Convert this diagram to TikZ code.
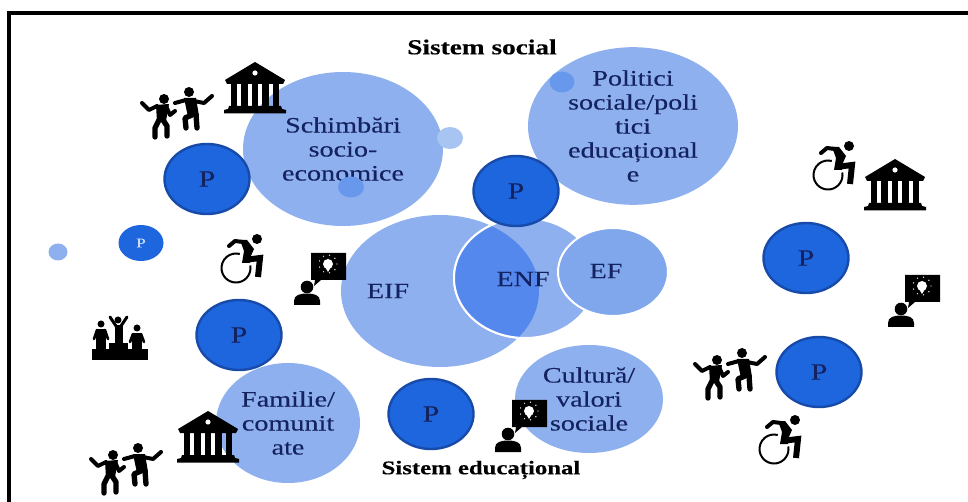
\documentclass[tikz,border=0pt]{standalone}
\usepackage{fontspec}
\setmainfont[FakeStretch=1.28,FakeBold=0.25]{Liberation Serif}
\usetikzlibrary{shapes.geometric}
\definecolor{bub}{RGB}{143,176,238}
\definecolor{bubb}{RGB}{128,166,236}
\definecolor{over}{RGB}{84,136,236}
\definecolor{pfill}{RGB}{30,102,222}
\definecolor{pedge}{RGB}{24,74,170}
\definecolor{ink}{RGB}{20,34,96}
\definecolor{dotm}{RGB}{104,152,236}
\definecolor{dotl}{RGB}{168,196,242}
\definecolor{pale}{RGB}{205,220,248}
\tikzset{
  x=0.75pt,y=-0.75pt,
  ell/.style 2 args={ellipse,inner sep=0pt,outer sep=0pt,minimum width=#1*0.75pt,minimum height=#2*0.75pt},
  bubble/.style={fill=bub,text=ink,align=center,font=\fontsize{16.5}{18}\selectfont},
  pnode/.style={ell={85}{70},fill=pfill,draw=pedge,line width=1.8pt,text=ink,font=\fontsize{17.5}{18}\selectfont},
  lab/.style={text=ink,font=\fontsize{16.5}{18}\selectfont,inner sep=0pt},
  title/.style={text=black,font=\fontsize{16}{18}\selectfont\bfseries,inner sep=0pt},
  stroke/.style={draw=black,line cap=round,line join=round},
  pics/bank/.style={code={
    \fill[black] (0,-26) -- (-30,-8) -- (-28,-4) -- (28,-4) -- (30,-8) -- cycle;
    \fill[white] (0,-15) circle[radius=2.6];
    \foreach \cx in {-21,-10.5,0,10.5,21}{\fill[black] (\cx-3.3,-5) rectangle (\cx+3.3,19);}
    \fill[black] (-26,18) -- (26,18) -- (27,21) -- (31,22) -- (31,25.5) -- (-31,25.5) -- (-31,22) -- (-27,21) -- cycle;
  }},
  pics/dancers/.style={code={
    \fill (-12,-14) circle[radius=5];
    \fill (-20,-8) -- (-7,-9) -- (-10,8) -- (-19,9) -- cycle;
    \draw[stroke,line width=3pt] (-34,-10) -- (-27,-3) -- (-19,-7);
    \draw[stroke,line width=3pt] (-10,-7) -- (-6,2) -- (-1,-2);
    \draw[stroke,line width=4pt] (-17,7) -- (-21,15) -- (-21,24);
    \draw[stroke,line width=4pt] (-13,7) -- (-9,13) -- (-9,23);
    \fill (13,-21) circle[radius=5];
    \fill (8,-15) -- (20,-15) -- (23,3) -- (12,4) -- cycle;
    \draw[stroke,line width=3pt] (-1,-10) -- (10,-13);
    \draw[stroke,line width=3pt] (18,-12) -- (28,-10) -- (36,-17);
    \draw[stroke,line width=4pt] (16,2) -- (9,5) -- (10,15);
    \draw[stroke,line width=4pt] (20,2) -- (21,15);
  }},
  pics/wheel/.style={code={
    \fill (15,-20) circle[radius=5];
    \draw[stroke,line width=3pt] (-13,-13) -- (-7,-18) -- (1,-17);
    \fill (-2,-19) -- (5,-19) -- (12,-10) -- (8,-1) -- (8,4) -- (0,4) -- (2,-8) -- cycle;
    \draw[draw=black,line width=4.5pt,line join=miter] (2,1) -- (18,-1) -- (16,18);
    \draw[line width=1.5pt] (-6,9) ++(-10:14.5) arc[start angle=-10,end angle=285,radius=14.5];
  }},
  pics/idea/.style={code={
    \fill (-9,-26) -- (26,-26) -- (26,1) -- (1,1) -- (-6,7) -- (-5,1) -- (-9,1) -- cycle;
    \fill[white] (8,-15) circle[radius=5];
    \fill[white] (5,-12) -- (11,-12) -- (8,-7) -- cycle;
    \foreach \an in {0,40,...,320}{\fill[white] (8,-15) ++(\an:9) circle[radius=0.7];}
    \fill (-13,8) circle[radius=6.3];
    \fill (-26,26) -- (-26,22) .. controls (-26,16) and (-20,14.5) .. (-13,14.5) .. controls (-6,14.5) and (0,16) .. (0,22) -- (0,26) -- cycle;
  }},
  pics/podium/.style={code={
    \fill (-27,11) rectangle (29,22);
    \fill (-10,5) rectangle (9,12);
    \fill (-1,-18) circle[radius=3.5];
    \fill (-4,-13) rectangle (3.5,6);
    \draw[stroke,line width=2.2pt] (-9,-21) -- (-3,-12);
    \draw[stroke,line width=2.2pt] (8,-21) -- (2,-12);
    \fill (-18,-14) circle[radius=3.5];
    \fill (-23,-9) rectangle (-13,12);
    \draw[stroke,line width=2pt] (-22,-8) -- (-25,1);
    \draw[stroke,line width=2pt] (-14,-8) -- (-11,1);
    \fill (18,-10) circle[radius=3.5];
    \fill (13,-5) rectangle (23,12);
    \draw[stroke,line width=2pt] (14,-4) -- (11,4);
    \draw[stroke,line width=2pt] (22,-4) -- (25,4);
  }},
}
\begin{document}
\begin{tikzpicture}
\useasboundingbox (0,0) rectangle (968,502);
\fill[white] (0,0) rectangle (968,502);
% frame: only the top and left rules show
\draw[black,line width=3pt] (9,502) -- (9,13) -- (968,13);

% big bubbles
\node[ell={200}{154},bubble] (soc) at (343,149) {Schimbări\\socio-\\economice};
\node[ell={210}{156},bubble] (pol) at (633,126) {Politici\\sociale/poli\\tici\\educațional\\e};
\node[ell={148}{108},bubble] (cul) at (589,399) {Cultură/\\valori\\sociale};
\node[ell={144}{120},bubble] (fam) at (288,423) {Familie/\\comunit\\ate};

% small dots
\node[ell={26}{21},fill=dotm] (d1) at (351,187) {};
\node[ell={26}{22},fill=dotl] (d2) at (450,138) {};
\node[ell={25}{21},fill=dotm] (d3) at (562,82) {};
\node[ell={19}{17},fill=bub] (d4) at (58,252) {};

% overlapping centre
\node[ell={198}{152},fill=bub] (eif) at (440,291) {};
\node[ell={142}{120},fill=bub,draw=white,line width=1.5pt] (enf) at (525,278) {};
\begin{scope}
  \clip (440,291) ellipse [x radius=99,y radius=76];
  \fill[over] (525,278) ellipse [x radius=71,y radius=60];
  \draw[white,line width=1.5pt] (525,278) ellipse [x radius=71,y radius=60];
\end{scope}
\node[ell={110}{88},fill=bubb,draw=white,line width=1.5pt] (ef) at (613,272) {};
\node[lab] (teif) at (388,291) {EIF};
\node[lab] (tenf) at (523,279) {ENF};
\node[lab] (tef) at (606,271) {EF};

% P nodes
\node[pnode] (p1) at (207,179) {P};
\node[pnode] (p2) at (516,191) {P};
\node[pnode] (p3) at (239,335) {P};
\node[pnode] (p4) at (431,414) {P};
\node[pnode] (p5) at (806,258) {P};
\node[pnode] (p6) at (819,372) {P};
\node[ell={45}{36},fill=pfill,text=pale,font=\fontsize{10}{10}\selectfont] (p7) at (141,243) {P};

% titles
\node[title] (ts) at (482,47) {Sistem social};
\node[title,font=\fontsize{14.5}{18}\selectfont\bfseries] (te) at (481,470) {Sistem educațional};

% icons
\pic at (255,88) {bank};
\pic at (208,437) {bank};
\pic at (895,185) {bank};
\pic at (176,113) {dancers};
\pic at (125,469) {dancers};
\pic at (729,374) {dancers};
\pic at (242,259) {wheel};
\pic at (834,166) {wheel};
\pic at (780,440) {wheel};
\pic at (320,279) {idea};
\pic at (914,301) {idea};
\pic at (521,426) {idea};
\pic at (119,338) {podium};
\end{tikzpicture}
\end{document}
